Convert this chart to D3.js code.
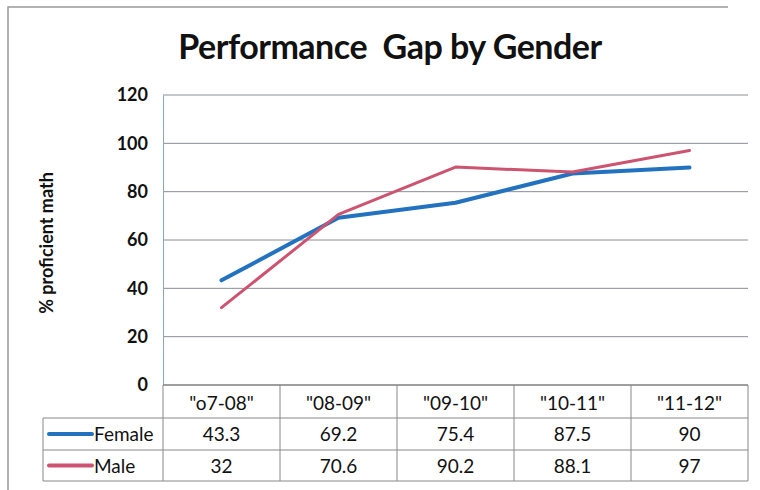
<!DOCTYPE html>
<html>
<head>
<meta charset="utf-8">
<script src="https://cdn.jsdelivr.net/npm/d3@7"></script>
<style>
  body { margin: 0; background: #fff; }
  text { font-family: Lato, "Open Sans", sans-serif; fill: #111; }
</style>
</head>
<body>
<div class="chart-area"></div>
<script>
const width = 760
const height = 490
const margin = { top: 95, right: 12, bottom: 105, left: 163 }

// data
const seasons = ['"o7-08"', '"08-09"', '"09-10"', '"10-11"', '"11-12"']
const female = [43.3, 69.2, 75.4, 87.5, 90]
const male = [32, 70.6, 90.2, 88.1, 97]
const yTicks = [0, 20, 40, 60, 80, 100, 120]

const series = [
  { name: "Female", values: female, color: "#2372bf", w: 4 },
  { name: "Male", values: male, color: "#cc5470", w: 3 }
]

const svg = d3.select(".chart-area").append("svg")
  .attr("width", width)
  .attr("height", height)
  .attr("viewBox", [0, 0, width, height])

// outer frame (left and top edges only visible in the scan)
svg.append("path")
  .attr("d", "M8,490 L8,7 L728,7")
  .attr("fill", "none")
  .attr("stroke", "#999")
  .attr("stroke-width", 1.5)

const x = d3.scaleBand()
  .domain(seasons)
  .range([margin.left, 748])

const y = d3.scaleLinear()
  .domain([0, 120])
  .range([385, margin.top])

// title
svg.append("text")
  .attr("x", 390).attr("y", 59)
  .attr("text-anchor", "middle")
  .attr("font-size", 34)
  .attr("font-weight", "bold")
  .style("white-space", "pre")
  .style("letter-spacing", "-0.5px")
  .text("Performance  Gap by Gender")

// gridlines
svg.append("g")
  .selectAll("line")
  .data(yTicks)
  .join("line")
  .attr("x1", margin.left).attr("x2", 748)
  .attr("y1", d => y(d)).attr("y2", d => y(d))
  .attr("stroke", "#8a8f96")
  .attr("stroke-width", 1)

// y axis
const yAxis = svg.append("g")
  .attr("transform", `translate(${margin.left},0)`)
  .call(d3.axisLeft(y).tickValues(yTicks).tickSize(0).tickPadding(15))
yAxis.select(".domain").attr("stroke", "#8fa8b5")
yAxis.selectAll("text")
  .attr("font-size", 18)
  .attr("font-weight", "bold")
  .attr("font-family", "Lato, sans-serif")
  .attr("fill", "#111")

svg.append("text")
  .attr("transform", "translate(53,243) rotate(-90)")
  .attr("text-anchor", "middle")
  .style("font-size", "18px")
  .style("font-weight", "bold")
  .text("% proficient math")

// lines
const line = d3.line()
  .x((d, i) => x(seasons[i]) + x.bandwidth() / 2)
  .y(d => y(d))

svg.append("g")
  .selectAll("path")
  .data(series)
  .join("path")
  .attr("d", d => line(d.values))
  .attr("fill", "none")
  .attr("stroke", d => d.color)
  .attr("stroke-width", d => d.w)
  .attr("stroke-linecap", "round")
  .attr("stroke-linejoin", "round")

// data table
const rowTop = [385, 418, 450]
const rowBottom = 481
const tableLeft = 43
const table = svg.append("g")

// horizontal table lines
table.append("line")
  .attr("x1", margin.left).attr("x2", 748)
  .attr("y1", rowTop[0]).attr("y2", rowTop[0])
  .attr("stroke", "#777")
table.selectAll(".hrow")
  .data([rowTop[1], rowTop[2], rowBottom])
  .join("line")
  .attr("class", "hrow")
  .attr("x1", tableLeft).attr("x2", 748)
  .attr("y1", d => d).attr("y2", d => d)
  .attr("stroke", "#888")

// vertical table lines
const colEdges = seasons.map(s => x(s)).concat([748])
table.selectAll(".vcol")
  .data(colEdges)
  .join("line")
  .attr("class", "vcol")
  .attr("x1", d => d).attr("x2", d => d)
  .attr("y1", rowTop[0]).attr("y2", rowBottom)
  .attr("stroke", "#888")
table.append("line")
  .attr("x1", tableLeft).attr("x2", tableLeft)
  .attr("y1", rowTop[1]).attr("y2", rowBottom)
  .attr("stroke", "#888")

// header labels
table.selectAll(".hdr")
  .data(seasons)
  .join("text")
  .attr("class", "hdr")
  .attr("x", d => x(d) + x.bandwidth() / 2)
  .attr("y", 410)
  .attr("text-anchor", "middle")
  .attr("font-size", 19)
  .text(d => d)

// series rows
series.forEach((s, r) => {
  const cy = (rowTop[r + 1] + (r === 0 ? rowTop[2] : rowBottom)) / 2
  table.append("line")
    .attr("x1", 49).attr("x2", 92)
    .attr("y1", cy).attr("y2", cy)
    .attr("stroke", s.color)
    .attr("stroke-width", 4)
    .attr("stroke-linecap", "round")
  table.append("text")
    .attr("x", 94).attr("y", cy + 7)
    .attr("font-size", 19)
    .text(s.name)
  table.selectAll(".v" + r)
    .data(s.values)
    .join("text")
    .attr("x", (d, i) => x(seasons[i]) + x.bandwidth() / 2)
    .attr("y", cy + 7)
    .attr("text-anchor", "middle")
    .attr("font-size", 19)
    .text(d => d)
})
</script>
</body>
</html>
